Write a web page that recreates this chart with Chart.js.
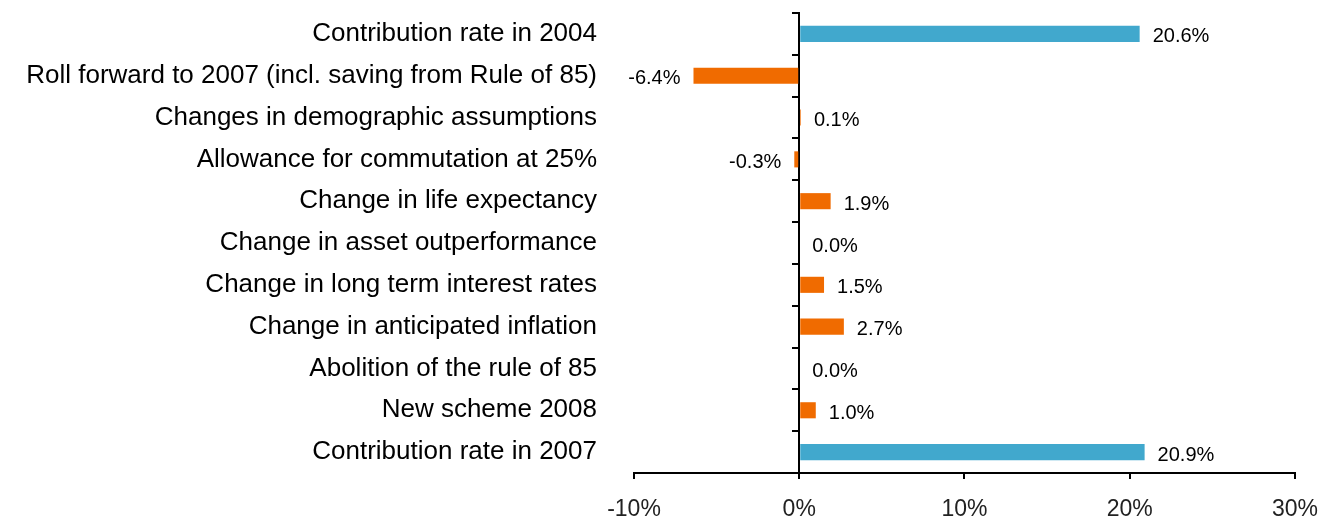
<!DOCTYPE html>
<html>
<head>
<meta charset="utf-8">
<script src="https://cdn.jsdelivr.net/npm/chart.js@4.4.1/dist/chart.umd.min.js"></script>
<style>
  html, body { margin: 0; padding: 0; background: #fff; }
  #wrap { width: 1335px; height: 523px; }
</style>
</head>
<body>
<div id="wrap"><canvas id="chart" width="1335" height="523"></canvas></div>
<script>
const categories = [
  'Contribution rate in 2004',
  'Roll forward to 2007 (incl. saving from Rule of 85)',
  'Changes in demographic assumptions',
  'Allowance for commutation at 25%',
  'Change in life expectancy',
  'Change in asset outperformance',
  'Change in long term interest rates',
  'Change in anticipated inflation',
  'Abolition of the rule of 85',
  'New scheme 2008',
  'Contribution rate in 2007'
];
const values = [20.6, -6.4, 0.1, -0.3, 1.9, 0.0, 1.5, 2.7, 0.0, 1.0, 20.9];
const isTotal = [true, false, false, false, false, false, false, false, false, false, true];
const xTicks = [-10, 0, 10, 20, 30];

const FONT = '"Liberation Sans", Arial, sans-serif';
const BLUE = '#41a8cd';
const ORANGE = '#f06b00';

// value labels next to each bar end
const barLabels = {
  id: 'barLabels',
  afterDatasetsDraw(chart) {
    const ctx = chart.ctx;
    const meta = chart.getDatasetMeta(0);
    ctx.save();
    ctx.font = '20px ' + FONT;
    ctx.fillStyle = '#000';
    ctx.textBaseline = 'middle';
    meta.data.forEach((bar, i) => {
      const v = values[i];
      const txt = v.toFixed(1) + '%';
      if (v < 0) {
        ctx.textAlign = 'right';
        ctx.fillText(txt, bar.x - 13, bar.y + 3);
      } else {
        ctx.textAlign = 'left';
        ctx.fillText(txt, bar.x + 13, bar.y + 3);
      }
    });
    ctx.restore();
  }
};

new Chart(document.getElementById('chart'), {
  type: 'bar',
  data: {
    labels: categories,
    datasets: [{
      data: values,
      backgroundColor: isTotal.map(t => t ? BLUE : ORANGE),
      borderWidth: 0,
      categoryPercentage: 1,
      barPercentage: 0.385
    }]
  },
  options: {
    indexAxis: 'y',
    responsive: false,
    animation: false,
    devicePixelRatio: 1,
    layout: { padding: { top: 13, right: 39, bottom: 0, left: 0 } },
    plugins: {
      legend: { display: false },
      tooltip: { enabled: false }
    },
    scales: {
      x: {
        type: 'linear',
        min: -10,
        max: 30,
        afterBuildTicks: s => { s.ticks = xTicks.map(v => ({ value: v })); },
        afterFit: s => { s.height = 50; },
        ticks: {
          callback: v => v + '%',
          color: '#222',
          padding: 17,
          font: { family: FONT, size: 23 }
        },
        grid: { drawOnChartArea: false, color: '#000', lineWidth: 2, tickLength: 6 },
        border: { display: true, color: '#000', width: 2 }
      },
      y: {
        type: 'category',
        position: 'left',
        afterFit: s => { s.width = 634; s.paddingTop = 0; s.paddingBottom = 0; },
        ticks: {
          color: '#000',
          padding: 37,
          font: { family: FONT, size: 26 }
        },
        grid: { display: false, drawTicks: false },
        border: { display: false }
      },
      y2: {
        type: 'category',
        labels: categories,
        position: { x: 0 },
        offset: true,
        afterFit: s => { s.paddingTop = 0; s.paddingBottom = 0; },
        ticks: { display: false },
        grid: { drawOnChartArea: false, offset: true, color: '#000', lineWidth: 2, tickLength: 6 },
        border: { display: true, color: '#000', width: 2 }
      }
    }
  },
  plugins: [barLabels]
});
</script>
</body>
</html>
